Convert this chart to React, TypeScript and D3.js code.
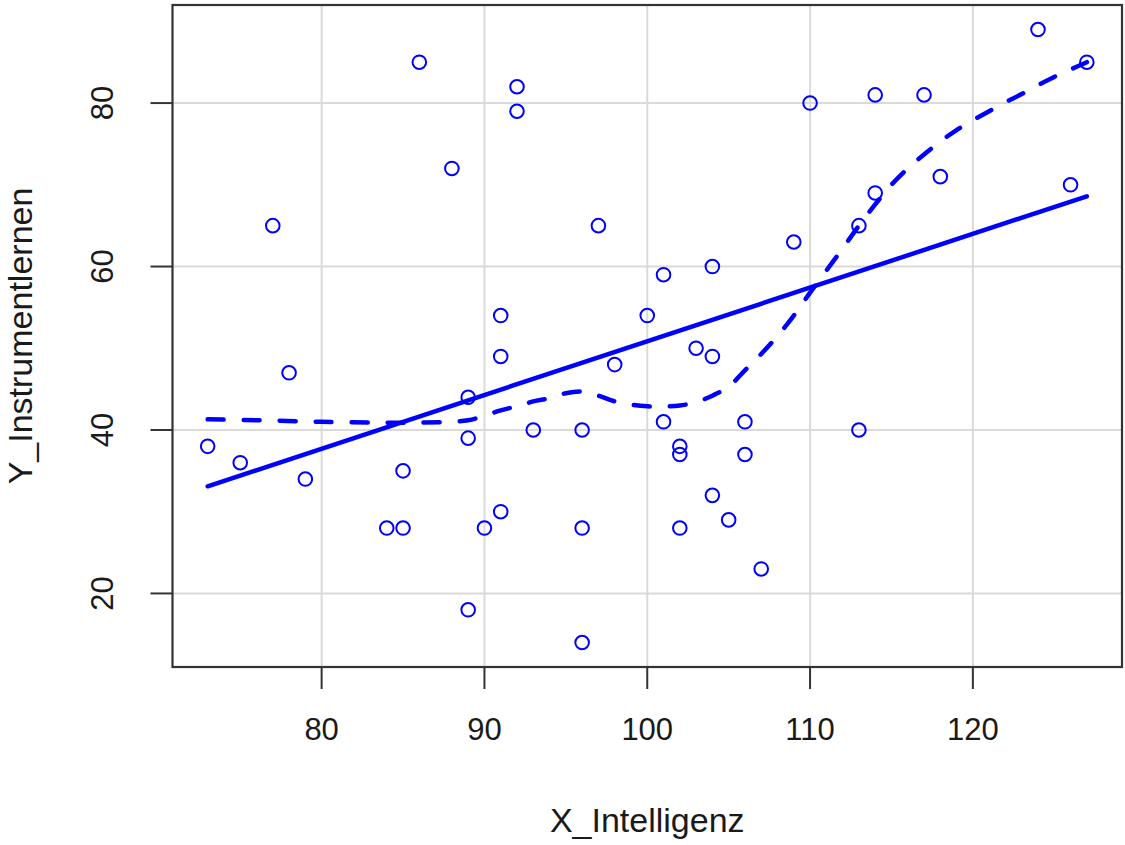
import React from 'react';
import { scaleLinear, line, curveCatmullRom, mean, sum, extent } from 'd3';

// scatter data
const intelligenz = [73, 75, 77, 78, 79, 84, 85, 85, 86, 88, 89, 89, 89, 90, 91, 91, 91, 92, 92, 93, 96, 96, 96, 97, 98, 100, 101, 101, 103, 102, 102, 102, 104, 104, 104, 105, 106, 106, 107, 109, 110, 113, 113, 114, 114, 117, 118, 124, 126, 127];
const instrumentlernen = [38, 36, 65, 47, 34, 28, 28, 35, 85, 72, 44, 39, 18, 28, 54, 49, 30, 82, 79, 40, 40, 28, 14, 65, 48, 54, 59, 41, 50, 38, 37, 28, 60, 49, 32, 29, 41, 37, 23, 63, 80, 65, 40, 69, 81, 81, 71, 89, 70, 85];

// loess smoother (dashed)
const smoothX = [73, 76, 80, 84, 86, 89, 91, 92, 93, 94, 95, 96, 97, 98, 99, 100, 101, 102, 103, 104, 105, 106, 107, 108, 109, 110, 111, 112, 113, 114, 115, 116, 117, 118, 119, 120, 121, 122, 123, 124, 125, 126, 127];
const smoothY = [41.3, 41.2, 41.0, 40.9, 40.9, 41.2, 42.4, 42.9, 43.5, 43.9, 44.5, 44.7, 44.2, 43.5, 43.1, 42.9, 42.9, 43.0, 43.4, 44.2, 45.3, 47.3, 49.3, 51.5, 54.0, 56.8, 59.5, 62.2, 65.0, 67.6, 70.0, 72.0, 73.7, 75.3, 76.7, 77.9, 79.0, 80.1, 81.1, 82.2, 83.2, 84.1, 85.0];

const xTicks = [80, 90, 100, 110, 120];
const yTicks = [20, 40, 60, 80];

const width = 1125;
const height = 845;
const plot = { l: 172.5, r: 1122, t: 5, b: 667 };
const font = '"Liberation Sans", Arial, sans-serif';
const blue = '#0000ff';

// R style axis range: data range padded by 4%
const pad = (lo: number, hi: number) => [lo - (hi - lo) * 0.04, hi + (hi - lo) * 0.04];

export default function App() {
    const [xmin, xmax] = extent(intelligenz) as [number, number];
    const [ymin, ymax] = extent(instrumentlernen) as [number, number];
    const x = scaleLinear().domain(pad(xmin, xmax)).range([plot.l, plot.r]);
    const y = scaleLinear().domain(pad(ymin, ymax)).range([plot.b, plot.t]);

    // least squares fit
    const mx = mean(intelligenz) as number;
    const my = mean(instrumentlernen) as number;
    const sxy = sum(intelligenz, (d, i) => (d - mx) * (instrumentlernen[i] - my));
    const sxx = sum(intelligenz, (d) => (d - mx) * (d - mx));
    const slope = sxy / sxx;
    const icpt = my - slope * mx;
    const fit = [xmin, xmax].map((v) => [v, icpt + slope * v] as [number, number]);

    const fitPath = line<[number, number]>().x((d) => x(d[0])).y((d) => y(d[1]))(fit) || '';
    const smoothPath = line<number>()
        .x((d) => x(d))
        .y((d, i) => y(smoothY[i]))
        .curve(curveCatmullRom)(smoothX) || '';

    return (
        <svg width={width} height={height} style={{ position: 'absolute', left: 0, top: 0, background: '#fff' }}
            fontFamily={font}>
            {/* grid */}
            <g stroke="#dadada" strokeWidth={2}>
                {xTicks.map((t) => <line key={'gx' + t} x1={x(t)} x2={x(t)} y1={plot.t} y2={plot.b} />)}
                {yTicks.map((t) => <line key={'gy' + t} y1={y(t)} y2={y(t)} x1={plot.l} x2={plot.r} />)}
            </g>

            {/* points */}
            <g fill="none" stroke={blue} strokeWidth={2}>
                {intelligenz.map((d, i) => (
                    <circle key={i} cx={x(d)} cy={y(instrumentlernen[i])} r={6.8} />
                ))}
            </g>

            {/* fit lines */}
            <path d={fitPath} fill="none" stroke={blue} strokeWidth={4.5} strokeLinecap="round" />
            <path d={smoothPath} fill="none" stroke={blue} strokeWidth={4.5} strokeLinecap="round"
                strokeDasharray="16 20" />

            {/* box */}
            <rect x={plot.l} y={plot.t} width={plot.r - plot.l} height={plot.b - plot.t}
                fill="none" stroke="#333" strokeWidth={2.2} />

            {/* ticks */}
            <g stroke="#333" strokeWidth={2}>
                {xTicks.map((t) => <line key={'tx' + t} x1={x(t)} x2={x(t)} y1={plot.b} y2={plot.b + 22} />)}
                {yTicks.map((t) => <line key={'ty' + t} y1={y(t)} y2={y(t)} x1={plot.l} x2={plot.l - 22} />)}
            </g>
            <g fontSize={31} fill="#1a1a1a" textAnchor="middle">
                {xTicks.map((t) => <text key={'lx' + t} x={x(t)} y={740}>{t}</text>)}
                {yTicks.map((t) => (
                    <text key={'ly' + t} transform={`translate(113,${y(t)}) rotate(-90)`}>{t}</text>
                ))}
            </g>
            <g fontSize={34} fill="#1a1a1a" textAnchor="middle">
                <text x={(plot.l + plot.r) / 2} y={832}>X_Intelligenz</text>
                <text transform={`translate(32,${(plot.t + plot.b) / 2}) rotate(-90)`}>Y_Instrumentlernen</text>
            </g>
        </svg>
    );
}
